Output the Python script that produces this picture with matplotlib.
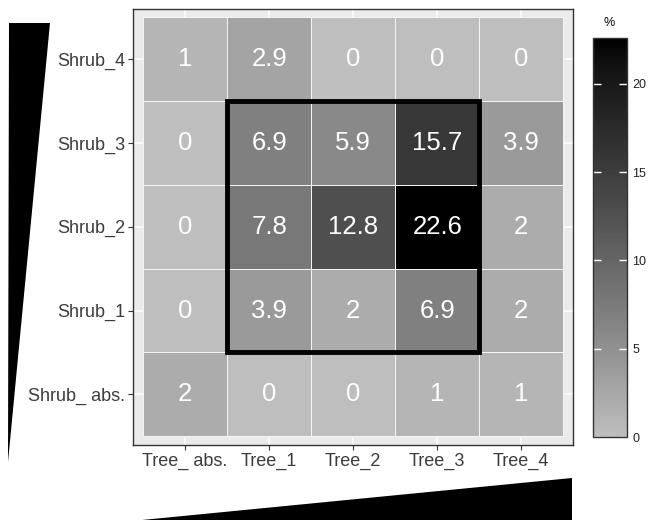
import numpy as np
import matplotlib
matplotlib.use("Agg")
import matplotlib.pyplot as plt
from matplotlib.colors import ListedColormap
from matplotlib.patches import Rectangle, Polygon

plt.rcParams['font.family'] = ['Liberation Sans', 'DejaVu Sans']

trees = ["Tree_ abs.", "Tree_1", "Tree_2", "Tree_3", "Tree_4"]
shrubs = ["Shrub_ abs.", "Shrub_1", "Shrub_2", "Shrub_3", "Shrub_4"]

# percentage of plots per tree/shrub class, rows ordered as in `shrubs`
row_shrub_abs = [2, 0, 0, 1, 1]
row_shrub_1 = [0, 3.9, 2, 6.9, 2]
row_shrub_2 = [0, 7.8, 12.8, 22.6, 2]
row_shrub_3 = [0, 6.9, 5.9, 15.7, 3.9]
row_shrub_4 = [1, 2.9, 0, 0, 0]

values = np.array([row_shrub_abs, row_shrub_1, row_shrub_2, row_shrub_3, row_shrub_4])
vmax = values.max()


def lab_gray_ramp(low=190, n=256):
    """Grey-to-black ramp interpolated linearly in CIE L*."""
    def to_lin(c):
        c = c / 255.0
        return c / 12.92 if c <= 0.04045 else ((c + 0.055) / 1.055) ** 2.4

    def l_star(y):
        return 116 * y ** (1 / 3) - 16 if y > 0.008856 else 903.3 * y

    def from_l(L):
        y = ((L + 16) / 116) ** 3 if L > 8 else L / 903.3
        return 12.92 * y if y <= 0.0031308 else 1.055 * y ** (1 / 2.4) - 0.055

    L0 = l_star(to_lin(low))
    cols = []
    for t in np.linspace(0, 1, n):
        g = from_l(L0 * (1 - t))
        cols.append((g, g, g))
    return ListedColormap(cols)


cmap = lab_gray_ramp()

fig = plt.figure(figsize=(6.48, 5.2), dpi=100)
ax = fig.add_axes([133 / 648, 1 - 445 / 520, 440 / 648, 436 / 520])
ax.set_facecolor("#EBEBEB")

# background grid
for i in range(5):
    ax.axvline(i, color="white", lw=1.1, zorder=0)
    ax.axhline(i, color="white", lw=1.1, zorder=0)

xe = np.arange(6) - 0.5
ye = np.arange(6) - 0.5
mesh = ax.pcolormesh(xe, ye, values, cmap=cmap, vmin=0, vmax=vmax,
                     edgecolors="#f4f4f4", linewidth=0.6, zorder=1)

for r in range(values.shape[0]):
    for c in range(values.shape[1]):
        ax.text(c, r, f"{values[r, c]:g}", ha="center", va="center",
                color="white", fontsize=18.5, zorder=3)

# highlighted block: Tree_1..Tree_3 x Shrub_1..Shrub_3
ax.add_patch(Rectangle((0.5, 0.5), 3, 3, fill=False, edgecolor="black",
                       lw=3.5, zorder=4))

ax.set_xlim(-0.62, 4.615)
ax.set_ylim(-0.605, 4.6)
ax.set_xticks(range(5))
ax.set_xticklabels(trees)
ax.set_yticks(range(5))
ax.set_yticklabels(shrubs)
ax.tick_params(axis="both", length=3.5, width=0.8, color="#333333",
               labelcolor="#3c3c3c", labelsize=13, pad=2)
for s in ax.spines.values():
    s.set_color("#333333")
    s.set_linewidth(1.0)

# colour bar
cax = fig.add_axes([593 / 648, 1 - 437 / 520, 34 / 648, 399 / 520])
cb = fig.colorbar(mesh, cax=cax)
cb.set_ticks([0, 5, 10, 15, 20])
cb.outline.set_edgecolor("#333333")
cb.outline.set_linewidth(1.0)
cax.tick_params(axis="y", direction="in", length=6, width=1.0, color="white",
                left=True, right=True, labelsize=9, labelcolor="#222222", pad=4)
cax.set_title("%", fontsize=9, loc="left", pad=9, x=0.3)

# decorative gradient wedges
fig.patches.append(Polygon([(9 / 648, 1 - 23 / 520), (50 / 648, 1 - 23 / 520),
                            (8 / 648, 1 - 462 / 520)], closed=True,
                           facecolor="black", edgecolor="none",
                           transform=fig.transFigure, figure=fig))
fig.patches.append(Polygon([(142 / 648, 0), (572 / 648, 1 - 478 / 520),
                            (572 / 648, 0)], closed=True,
                           facecolor="black", edgecolor="none",
                           transform=fig.transFigure, figure=fig))

fig.savefig("out.png", dpi=100)
